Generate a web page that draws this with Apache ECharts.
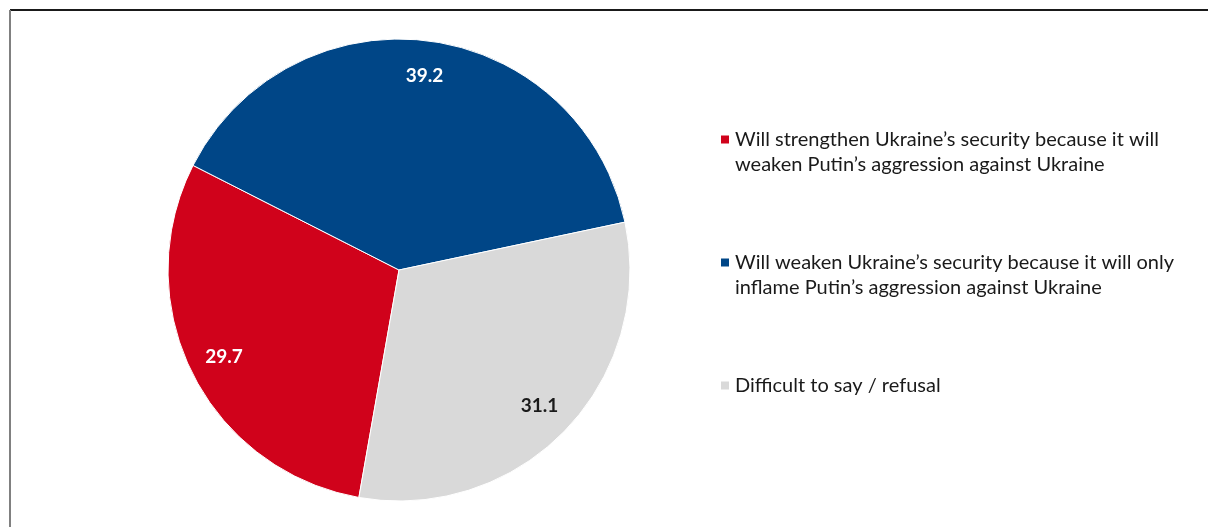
<!DOCTYPE html>
<html>
<head>
<meta charset="utf-8">
<script src="https://cdn.jsdelivr.net/npm/echarts@6/dist/echarts.min.js"></script>
<style>
html, body { margin: 0; padding: 0; background: #fff; }
#pie-chart { width: 1209px; height: 527px; }
</style>
</head>
<body>
<div id="pie-chart"></div>
<script>
var categories = [
    "Will strengthen Ukraine\u2019s security because it will\nweaken Putin\u2019s aggression against Ukraine",
    "Will weaken Ukraine\u2019s security because it will only\ninflame Putin\u2019s aggression against Ukraine",
    "Difficult to say / refusal"
];
var values = [29.7, 39.2, 31.1];
var colors = ["#d0021b", "#004687", "#d9d9d9"];
var labelColors = ["#fff", "#fff", "#1a1a1a"];

var cx = 399, cy = 270;

var data = [];
for (var i = 0; i < categories.length; i++) {
    data.push({
        name: categories[i],
        value: values[i],
        itemStyle: { color: colors[i] },
        label: { color: labelColors[i] }
    });
}

var pieChart = echarts.init(document.getElementById('pie-chart'));

var option = {
    animation: false,
    graphic: [
        { type: 'line', shape: { x1: 10, y1: 10, x2: 1208, y2: 10 }, style: { stroke: '#1a1a1a', lineWidth: 2 } },
        { type: 'line', shape: { x1: 10, y1: 10, x2: 10, y2: 527 }, style: { stroke: '#808080', lineWidth: 2 } }
    ],
    legend: {
        orient: 'vertical',
        left: 719,
        top: 102,
        padding: 0,
        itemWidth: 10,
        itemHeight: 10,
        itemGap: 48,
        icon: 'rect',
        data: categories,
        // pad every entry to three lines so the square sits beside the first line
        formatter: function (name) {
            return name.indexOf("\n") >= 0 ? "\n" + name : "\n" + name + "\n";
        },
        textStyle: {
            fontFamily: 'Lato',
            fontSize: 20,
            lineHeight: 25,
            color: '#1a1a1a'
        }
    },
    series: [
        {
            type: 'pie',
            center: [cx, cy],
            radius: 231,
            startAngle: 260,
            clockwise: true,
            data: data,
            itemStyle: { borderColor: '#fff', borderWidth: 1 },
            label: {
                show: true,
                position: 'inside',
                fontFamily: 'Lato',
                fontWeight: 'bold',
                fontSize: 19,
                formatter: function (p) { return p.value.toFixed(1); }
            },
            labelLine: { show: false },
            labelLayout: function (params) {
                var r = params.labelRect;
                var mx = r.x + r.width / 2, my = r.y + r.height / 2;
                return { x: cx + (mx - cx) * 1.65, y: cy + (my - cy) * 1.65 };
            }
        }
    ]
};

pieChart.setOption(option, true);
</script>
</body>
</html>
